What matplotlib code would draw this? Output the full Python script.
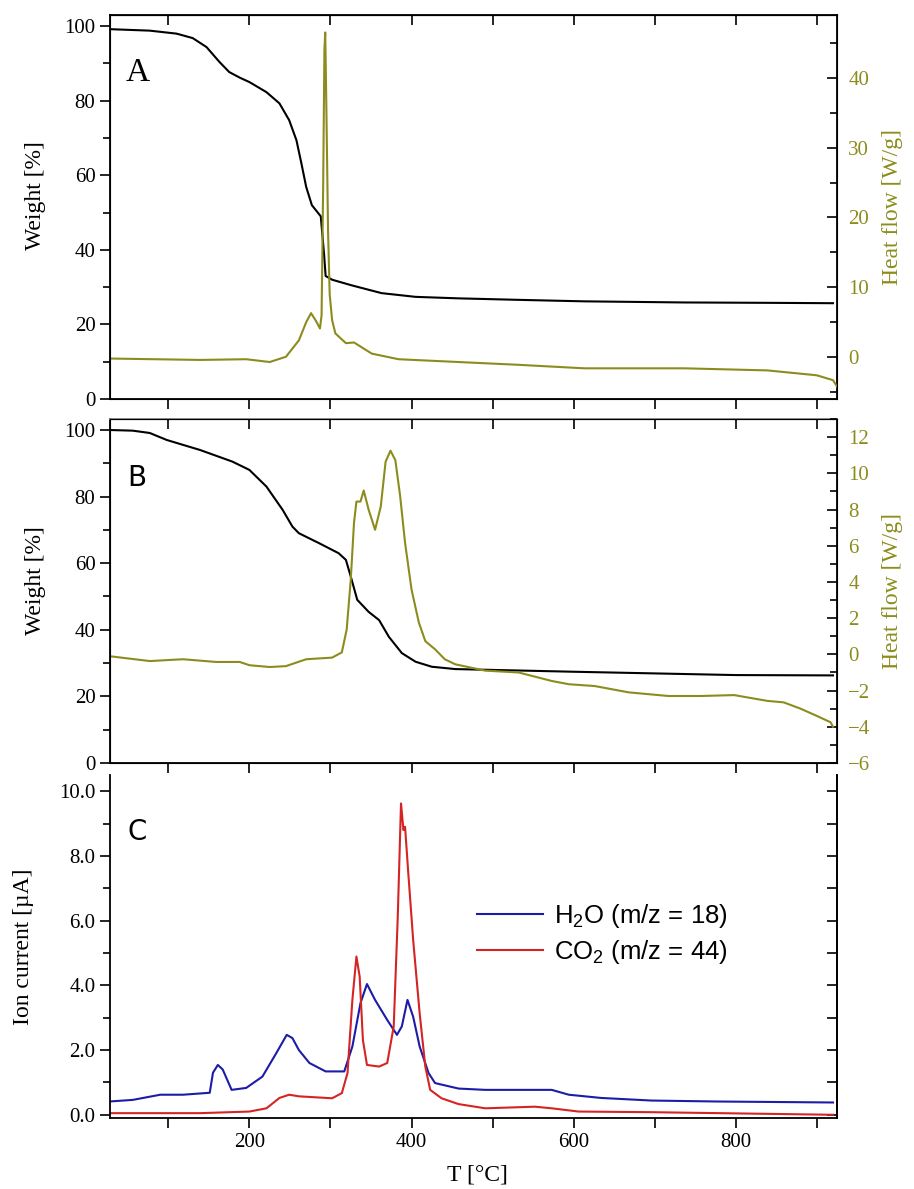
import matplotlib

matplotlib.use("Agg")
import matplotlib.pyplot as plt
from matplotlib.ticker import MultipleLocator, FormatStrFormatter

plt.rcParams["font.family"] = ["Liberation Serif", "DejaVu Serif"]
plt.rcParams["mathtext.default"] = "regular"

OLIVE = "#8c8c1e"
BLUE = "#1c1ca8"
RED = "#d42424"

# Panel A: TGA weight + heat flow
a_wt_t = [27, 77, 110, 130, 147, 155, 163, 175, 188, 200, 221, 237, 249, 258, 264, 270,
          277, 288, 292, 294, 302, 326, 363, 405, 458, 532, 613, 736, 839, 920]
a_wt = [99.2, 98.8, 98.0, 96.8, 94.4, 92.4, 90.4, 87.7, 86.2, 85.0, 82.3, 79.3, 74.8,
        69.4, 63.3, 56.9, 52.0, 49.0, 39.0, 33.0, 32.0, 30.5, 28.4, 27.4, 27.0, 26.6,
        26.2, 25.9, 25.8, 25.7]
a_hf_t = [27, 139, 196, 225, 245, 261, 270, 276, 282, 287, 289, 291, 292.5, 293.5, 295,
          297, 299, 302, 306, 319, 329, 351, 384, 458, 532, 613, 736, 839, 900, 920, 925]
a_hf = [-0.2, -0.4, -0.3, -0.7, 0.05, 2.4, 5.0, 6.3, 5.2, 4.1, 6.0, 25.0, 44.0, 46.5,
        35.0, 18.0, 9.0, 5.3, 3.4, 2.0, 2.1, 0.5, -0.3, -0.7, -1.1, -1.6, -1.6, -1.9,
        -2.6, -3.3, -4.2]

# Panel B
b_wt_t = [27, 56, 77, 98, 139, 179, 200, 221, 241, 253, 261, 286, 310, 319, 325, 333,
          347, 360, 372, 388, 405, 425, 454, 600, 800, 920]
b_wt = [100, 99.8, 99.1, 97, 94, 90.5, 88, 83, 76, 71, 69, 66, 63, 61, 56, 49, 45.4,
        42.9, 37.9, 33, 30.4, 28.9, 28.2, 27.4, 26.4, 26.3]
b_hf_t = [27, 77, 118, 159, 188, 200, 225, 245, 270, 302, 314, 320, 325, 329, 332, 337,
          341, 347, 355, 362, 368, 374, 380, 386, 392, 400, 409, 417, 429, 441, 454, 491,
          532, 573, 594, 626, 668, 717, 757, 798, 839, 859, 880, 900, 917, 920]
b_hf = [-0.1, -0.37, -0.27, -0.42, -0.42, -0.6, -0.7, -0.65, -0.27, -0.18, 0.11, 1.38,
        4.13, 7.26, 8.44, 8.44, 9.05, 8.0, 6.88, 8.16, 10.64, 11.25, 10.73, 8.72, 6.16,
        3.58, 1.76, 0.73, 0.28, -0.27, -0.55, -0.9, -1.0, -1.47, -1.65, -1.75, -2.1,
        -2.3, -2.3, -2.25, -2.57, -2.65, -3.0, -3.4, -3.75, -4.0]

# Panel C: MS ion currents
c_h2o_t = [27, 56, 90, 118, 151, 155, 161, 167, 178, 196, 216, 233, 246, 253, 261, 274,
           294, 317, 327, 337, 345, 355, 370, 382, 388, 395, 402, 410, 421, 429, 458,
           491, 573, 594, 634, 696, 778, 920]
c_h2o = [0.41, 0.46, 0.62, 0.62, 0.68, 1.3, 1.54, 1.4, 0.77, 0.83, 1.18, 1.9, 2.47, 2.37,
         2.0, 1.6, 1.34, 1.34, 2.11, 3.45, 4.04, 3.55, 2.93, 2.47, 2.73, 3.55, 3.03, 2.11,
         1.29, 0.98, 0.81, 0.77, 0.77, 0.62, 0.52, 0.44, 0.41, 0.38]
c_co2_t = [27, 139, 200, 221, 237, 249, 261, 302, 314, 321, 327, 332, 336, 340, 345, 360,
           370, 378, 383, 387, 390, 392, 396, 402, 410, 417, 423, 437, 458, 491, 552,
           573, 606, 696, 920]
c_co2 = [0.05, 0.05, 0.1, 0.2, 0.52, 0.62, 0.57, 0.51, 0.67, 1.29, 3.55, 4.89, 4.27, 2.31,
         1.54, 1.49, 1.6, 2.73, 6.12, 9.62, 8.8, 8.9, 7.46, 5.4, 3.14, 1.49, 0.77, 0.51,
         0.33, 0.2, 0.25, 0.2, 0.1, 0.08, 0.0]

XLIM = (28, 925)
FS = 15
LFS = 17


def style_x(ax, labels):
    ax.set_xlim(*XLIM)
    ax.xaxis.set_major_locator(MultipleLocator(200))
    ax.xaxis.set_minor_locator(MultipleLocator(100))
    ax.tick_params(axis="x", which="both", direction="out", top=False, labelsize=FS,
                   labelbottom=labels, width=1.2, length=7)
    ax.tick_params(axis="y", which="both", direction="out", labelsize=FS, width=1.2)
    ax.tick_params(axis="y", which="major", length=7)
    ax.tick_params(axis="y", which="minor", length=5)
    for s in ax.spines.values():
        s.set_linewidth(1.3)


def top_ticks(ax):
    sec = ax.secondary_xaxis("top")
    sec.xaxis.set_major_locator(MultipleLocator(200))
    sec.xaxis.set_minor_locator(MultipleLocator(100))
    sec.tick_params(which="both", direction="in", length=7, width=1.2, labeltop=False)
    return sec


def style_right(ax2, ylim, major, minor):
    ax2.set_ylim(*ylim)
    ax2.yaxis.set_major_locator(MultipleLocator(major))
    ax2.yaxis.set_minor_locator(MultipleLocator(minor))
    ax2.tick_params(axis="y", which="both", direction="in", labelsize=FS,
                    labelcolor=OLIVE, width=1.2, pad=8)
    ax2.tick_params(axis="y", which="major", length=7)
    ax2.tick_params(axis="y", which="minor", length=5)
    ax2.set_ylabel("Heat flow [W/g]", color=OLIVE, fontsize=LFS)
    ax2.yaxis.set_label_coords(1.062, 0.5)


fig = plt.figure(figsize=(9.14, 11.89), dpi=100)
ax_a = fig.add_axes([0.1204, 0.6644, 0.7954, 0.323])
ax_b = fig.add_axes([0.1204, 0.3583, 0.7954, 0.2893])
ax_c = fig.add_axes([0.1204, 0.0597, 0.7954, 0.2885])

# A
ax_a.plot(a_wt_t, a_wt, color="black", lw=1.5, zorder=3)
ax_a.set_ylim(0, 103)
ax_a.yaxis.set_major_locator(MultipleLocator(20))
ax_a.yaxis.set_minor_locator(MultipleLocator(10))
style_x(ax_a, False)
top_ticks(ax_a)
ax_a.set_ylabel("Weight [%]", fontsize=LFS)
ax_a.yaxis.set_label_coords(-0.088, 0.53)
ax_a.text(0.022, 0.89, "A", transform=ax_a.transAxes, fontsize=24, va="top")
ax_a2 = ax_a.twinx()
ax_a2.plot(a_hf_t, a_hf, color=OLIVE, lw=1.5)
style_right(ax_a2, (-6, 49), 10, 5)

# B
ax_b.plot(b_wt_t, b_wt, color="black", lw=1.5, zorder=3)
ax_b.set_ylim(0, 103.3)
ax_b.yaxis.set_major_locator(MultipleLocator(20))
ax_b.yaxis.set_minor_locator(MultipleLocator(10))
style_x(ax_b, True)
top_ticks(ax_b)
ax_b.spines["top"].set_color("#888888")
ax_b.set_ylabel("Weight [%]", fontsize=LFS)
ax_b.yaxis.set_label_coords(-0.088, 0.53)
ax_b.text(0.024, 0.87, "B", transform=ax_b.transAxes, fontsize=20, va="top",
          family=["Liberation Sans Narrow", "DejaVu Sans"])
ax_b2 = ax_b.twinx()
ax_b2.plot(b_hf_t, b_hf, color=OLIVE, lw=1.5)
style_right(ax_b2, (-6, 13), 2, 1)

# C
ax_c.plot(c_h2o_t, c_h2o, color=BLUE, lw=1.5, label="H$_2$O (m/z = 18)")
ax_c.plot(c_co2_t, c_co2, color=RED, lw=1.5, label="CO$_2$ (m/z = 44)")
ax_c.set_ylim(-0.1, 10.5)
ax_c.yaxis.set_major_locator(MultipleLocator(2))
ax_c.yaxis.set_minor_locator(MultipleLocator(1))
ax_c.yaxis.set_major_formatter(FormatStrFormatter("%.1f"))
style_x(ax_c, True)
ax_c.spines["top"].set_visible(False)
ax_c_r = ax_c.secondary_yaxis("right")
ax_c_r.yaxis.set_major_locator(MultipleLocator(1))
ax_c_r.tick_params(which="both", direction="in", length=7, width=1.2, labelright=False)
ax_c_r.spines["right"].set_linewidth(1.3)
ax_c.set_ylabel("Ion current [µA]", fontsize=LFS)
ax_c.yaxis.set_label_coords(-0.105, 0.5)
ax_c.set_xlabel("T [°C]", fontsize=LFS)
ax_c.xaxis.set_label_coords(0.505, -0.135)
ax_c.text(0.024, 0.875, "C", transform=ax_c.transAxes, fontsize=20, va="top",
          family=["Liberation Sans Narrow", "DejaVu Sans"])
ax_c.legend(loc="upper left", bbox_to_anchor=(0.49, 0.66), frameon=False,
            prop={"family": "Liberation Sans", "size": 18.5}, handlelength=2.6,
            labelspacing=0.3, handletextpad=0.4, borderaxespad=0)

fig.savefig("out.png", dpi=100)
